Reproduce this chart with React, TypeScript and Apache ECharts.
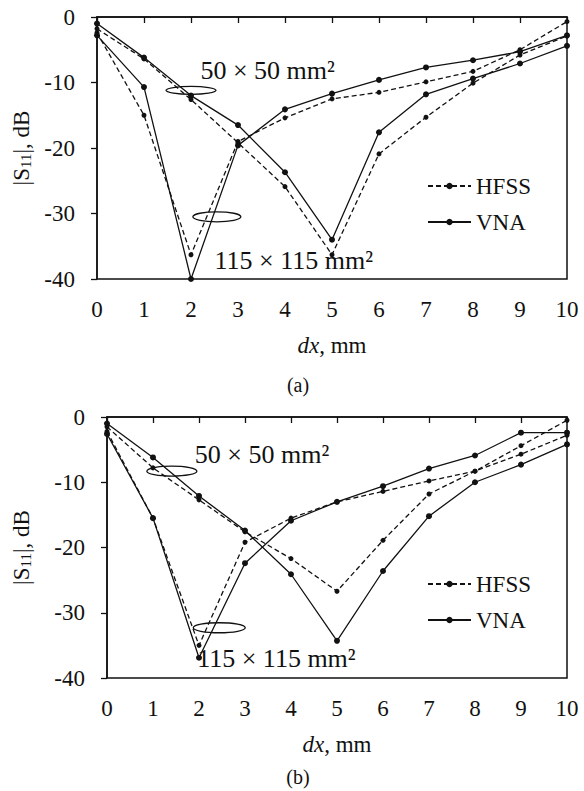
import React, { useEffect, useRef } from "react";
import * as echarts from "echarts";

// dx values (mm)
const dx = [0, 1, 2, 3, 4, 5, 6, 7, 8, 9, 10];

// Panel (a) |S11| in dB
const hfss50a = [-1.8, -6.4, -12.6, -19.2, -25.9, -36.3, -20.9, -15.3, -10.1, -5.8, -2.9];
const vna50a = [-1.0, -6.2, -12.0, -16.5, -23.7, -34.0, -17.6, -11.8, -9.4, -7.1, -4.4];
const hfss115a = [-2.4, -15.0, -36.3, -19.0, -15.4, -12.5, -11.5, -9.9, -8.3, -5.0, -0.7];
const vna115a = [-2.8, -10.7, -40.0, -19.6, -14.1, -11.7, -9.6, -7.7, -6.6, -5.3, -2.8];

// Panel (b) |S11| in dB
const hfss50b = [-1.5, -7.8, -12.7, -17.6, -21.7, -26.7, -18.9, -11.8, -8.3, -5.7, -2.8];
const vna50b = [-1.0, -6.2, -12.1, -17.4, -24.1, -34.3, -23.6, -15.2, -10.0, -7.3, -4.2];
const hfss115b = [-2.2, -15.5, -35.0, -19.2, -15.5, -13.0, -11.4, -9.8, -8.3, -4.4, -0.5];
const vna115b = [-2.6, -15.5, -36.9, -22.4, -15.9, -13.0, -10.6, -7.9, -5.9, -2.4, -2.4];

const legendNames = ["HFSS", "VNA"];
const captions = ["(a)", "(b)"];
const label50 = "50 × 50 mm²";
const label115 = "115 × 115 mm²";

const F = "'Liberation Serif', 'Times New Roman', serif";
const INK = "#111";

export default function App() {
  const ref = useRef<HTMLDivElement>(null);

  useEffect(() => {
    if (!ref.current) return;
    const chart = echarts.init(ref.current, undefined, { renderer: "svg" });

    const pts = (arr: number[]) => arr.map((v, i) => [dx[i], v]);

    const mk = (name: string, data: number[], g: number, dashed: boolean) => ({
      type: "line",
      name,
      xAxisIndex: g,
      yAxisIndex: g,
      data: pts(data),
      symbol: "circle",
      symbolSize: dashed ? 5 : 6,
      itemStyle: { color: INK },
      lineStyle: { color: INK, width: 1.3, type: dashed ? [5, 3] : "solid" },
      emphasis: { disabled: true },
    });

    const xAx = (g: number) => ({
      type: "value",
      gridIndex: g,
      min: 0,
      max: 10,
      interval: 1,
      axisLine: { show: true, lineStyle: { color: INK, width: 1.5 } },
      axisTick: { show: true, inside: false, length: 6, lineStyle: { color: INK, width: 1.3 } },
      axisLabel: { color: INK, fontFamily: F, fontSize: 23, margin: 19 },
      splitLine: { show: false },
      name: "{i|dx}, mm",
      nameLocation: "middle",
      nameGap: 55,
      nameTextStyle: {
        color: INK,
        fontFamily: F,
        fontSize: 23,
        rich: { i: { fontStyle: "italic", fontFamily: F, fontSize: 23, color: INK } },
      },
    });

    const yAx = (g: number) => ({
      type: "value",
      gridIndex: g,
      min: -40,
      max: 0,
      interval: 10,
      axisLine: { show: true, onZero: false, lineStyle: { color: INK, width: 1.5 } },
      axisTick: { show: true, inside: false, length: 6, lineStyle: { color: INK, width: 1.3 } },
      axisLabel: { color: INK, fontFamily: F, fontSize: 23, margin: 22 },
      splitLine: { show: false },
      name: "|S{s|11}|, dB",
      nameLocation: "middle",
      nameRotate: 90,
      nameGap: g === 0 ? 64 : 74,
      nameTextStyle: {
        color: INK,
        fontFamily: F,
        fontSize: 23,
        rich: { s: { fontSize: 15, fontFamily: F, color: INK, verticalAlign: "bottom", lineHeight: 10 } },
      },
    });

    const legendBase = {
      data: legendNames,
      orient: "vertical",
      left: 422,
      itemWidth: 43,
      itemHeight: 8,
      itemGap: 12,
      selectedMode: false,
      textStyle: { color: INK, fontFamily: F, fontSize: 23, lineHeight: 24 },
    };

    chart.setOption({
      animation: false,
      backgroundColor: "#fff",
      grid: [
        { left: 97, right: 17, top: 17, height: 262, show: true, borderColor: INK, borderWidth: 1.5 },
        { left: 107, right: 17, top: 417, height: 261, show: true, borderColor: INK, borderWidth: 1.5 },
      ],
      xAxis: [xAx(0), xAx(1)],
      yAxis: [yAx(0), yAx(1)],
      legend: [
        { ...legendBase, top: 169 },
        { ...legendBase, top: 567 },
      ],
      series: [
        mk("HFSS", hfss50a, 0, true),
        mk("VNA", vna50a, 0, false),
        mk("HFSS", hfss115a, 0, true),
        mk("VNA", vna115a, 0, false),
        mk("HFSS", hfss50b, 1, true),
        mk("VNA", vna50b, 1, false),
        mk("HFSS", hfss115b, 1, true),
        mk("VNA", vna115b, 1, false),
      ],
    });

    // annotation anchors in data coordinates: [grid, x, y]
    const ellipses = [
      [0, 2.0, -11.2, 25, 4],
      [0, 2.55, -30.5, 24, 5],
      [1, 1.41, -8.3, 25, 5],
      [1, 2.44, -32.3, 26, 5],
    ];
    const texts = [
      [0, 2.2, -8.1, label50],
      [0, 2.5, -37.1, label115],
      [1, 1.91, -5.7, label50],
      [1, 1.96, -37.0, label115],
    ];
    const graphics: any[] = [];
    ellipses.forEach(([g, x, y, rx, ry]) => {
      const p = chart.convertToPixel({ gridIndex: g as number }, [x as number, y as number]) as number[];
      graphics.push({
        type: "ellipse",
        shape: { cx: p[0], cy: p[1], rx, ry },
        style: { fill: "none", stroke: INK, lineWidth: 1.3 },
        z: 10,
      });
    });
    texts.forEach(([g, x, y, t]) => {
      const p = chart.convertToPixel({ gridIndex: g as number }, [x as number, y as number]) as number[];
      graphics.push({
        type: "text",
        x: p[0],
        y: p[1],
        style: {
          text: t as string,
          fill: INK,
          font: `26px ${F}`,
          textAlign: "left",
          textVerticalAlign: "middle",
        },
        z: 10,
      });
    });
    const capY = [385, 777];
    captions.forEach((c, i) => {
      graphics.push({
        type: "text",
        x: 298,
        y: capY[i],
        style: { text: c, fill: INK, font: `20px ${F}`, textAlign: "center", textVerticalAlign: "middle" },
      });
    });
    chart.setOption({ graphic: graphics });

    return () => chart.dispose();
  }, []);

  return (
    <div
      ref={ref}
      style={{ position: "absolute", left: 0, top: 0, width: 584, height: 791, background: "#fff" }}
    />
  );
}
